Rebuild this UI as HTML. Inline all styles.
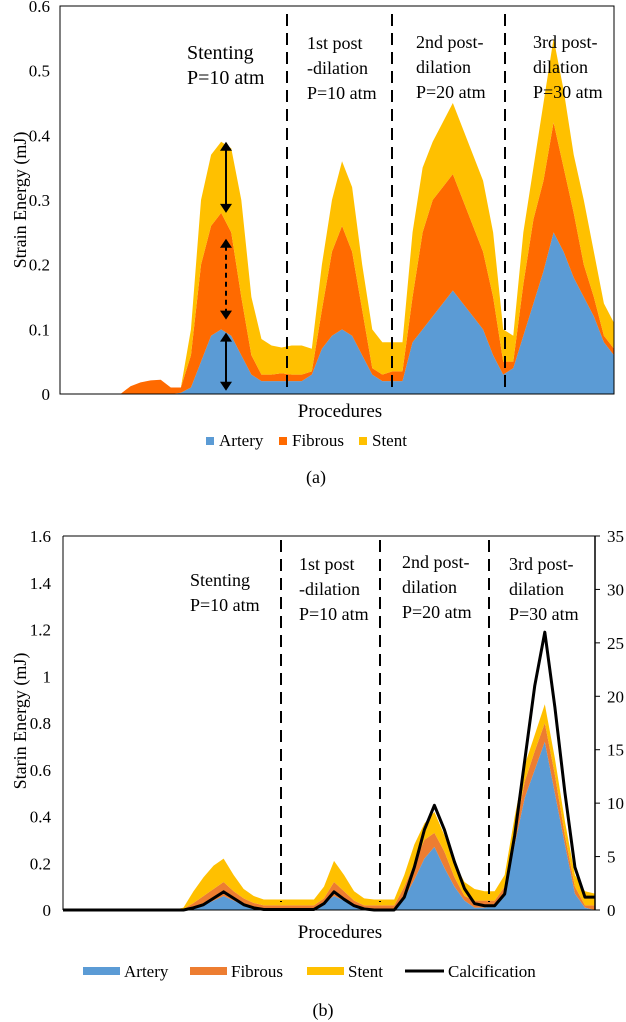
<!DOCTYPE html>
<html><head><meta charset="utf-8"><style>
body{margin:0;background:#fff;}
svg{display:block;font-family:"Liberation Serif",serif;}
</style></head><body>
<svg id="fig" width="626" height="1022"></svg>
<script>
// ---- Chart (a) data ----
const catsA = Array.from({length:56},(_,i)=>i);
const arteryA = [0,0,0,0,0,0,0,0,0,0,0,0,0.002,0.01,0.05,0.09,0.10,0.09,0.06,0.03,0.02,0.02,0.02,0.02,0.02,0.03,0.07,0.09,0.10,0.09,0.06,0.03,0.02,0.02,0.02,0.08,0.10,0.12,0.14,0.16,0.14,0.12,0.10,0.06,0.03,0.04,0.09,0.14,0.19,0.25,0.22,0.18,0.15,0.12,0.08,0.06];
const fibrousA = [0,0,0,0,0,0,0,0.012,0.018,0.021,0.022,0.01,0.008,0.05,0.15,0.17,0.18,0.16,0.09,0.03,0.01,0.01,0.012,0.01,0.01,0.005,0.06,0.13,0.16,0.13,0.07,0.01,0.01,0.015,0.015,0.07,0.15,0.18,0.18,0.18,0.16,0.14,0.12,0.09,0.02,0.01,0.08,0.13,0.14,0.17,0.13,0.10,0.05,0.03,0.01,0.01];
const stentA = [0,0,0,0,0,0,0,0,0,0,0,0,0,0.04,0.10,0.11,0.11,0.13,0.15,0.09,0.055,0.045,0.04,0.045,0.045,0.035,0.07,0.08,0.10,0.10,0.07,0.06,0.05,0.045,0.045,0.10,0.10,0.09,0.10,0.11,0.11,0.11,0.11,0.10,0.05,0.04,0.08,0.08,0.12,0.13,0.12,0.09,0.10,0.07,0.05,0.04];
const ticksA = [0,0.1,0.2,0.3,0.4,0.5,0.6];
// ---- Chart (b) data ----
const catsB = Array.from({length:54},(_,i)=>i);
const arteryB = [0,0,0,0,0,0,0,0,0,0,0,0,0,0.01,0.02,0.04,0.06,0.04,0.02,0.01,0.005,0.005,0.005,0.005,0.005,0.005,0.03,0.06,0.04,0.02,0.01,0.005,0.005,0.005,0.05,0.13,0.22,0.27,0.18,0.10,0.04,0.01,0.01,0.02,0.07,0.28,0.48,0.60,0.72,0.50,0.28,0.07,0.01,0];
const fibrousB = [0,0,0,0,0,0,0,0,0,0,0,0,0.005,0.02,0.04,0.05,0.06,0.04,0.03,0.02,0.015,0.015,0.015,0.015,0.015,0.015,0.02,0.06,0.04,0.02,0.01,0.015,0.015,0.015,0.05,0.07,0.08,0.06,0.07,0.04,0.02,0.03,0.03,0.02,0.03,0.05,0.07,0.08,0.08,0.08,0.04,0.03,0.01,0.02];
const stentB = [0,0,0,0,0,0,0,0,0,0,0,0,0.005,0.05,0.08,0.10,0.10,0.07,0.04,0.03,0.025,0.025,0.025,0.025,0.025,0.025,0.05,0.09,0.07,0.04,0.03,0.025,0.025,0.025,0.05,0.08,0.07,0.09,0.07,0.06,0.06,0.05,0.04,0.04,0.05,0.07,0.07,0.07,0.08,0.07,0.06,0.05,0.06,0.05];
const calcB = [0,0,0,0,0,0,0,0,0,0,0,0,0,0.2,0.5,1.1,1.7,1.1,0.5,0.2,0.05,0.05,0.05,0.05,0.05,0.05,0.6,1.7,1.0,0.4,0.1,0,0,0,1.2,4,7.5,9.8,7.5,4.5,2,0.6,0.4,0.4,1.5,7,14,21,26,19,11,4,1.2,1.2];
const ticksBL = [0,0.2,0.4,0.6,0.8,1,1.2,1.4,1.6];
const ticksBR = [0,5,10,15,20,25,30,35];

const NS="http://www.w3.org/2000/svg";
const svg=document.getElementById('fig');
function mk(tag,attrs,parent,text){const e=document.createElementNS(NS,tag);for(const k in attrs)e.setAttribute(k,attrs[k]);if(text!==undefined)e.textContent=text;(parent||svg).appendChild(e);return e;}
const COL={a:'#5b9bd5',f:'#ff6a00',s:'#ffc000'};
const COLB={a:'#5b9bd5',f:'#ed7d31',s:'#ffc000'};

function stackPaths(g,cats,layers,cols,xf,yf,names){
  let base=cats.map(()=>0);
  layers.forEach((L,li)=>{
    const top=base.map((b,i)=>b+L[i]);
    let d='M'+xf(0)+','+yf(base[0]);
    cats.forEach((c,i)=>{d+=' L'+xf(i)+','+yf(top[i]);});
    for(let i=cats.length-1;i>=0;i--)d+=' L'+xf(i)+','+yf(base[i]);
    const p=mk('path',{d:d+'Z',fill:cols[li]},g);
    
    
    base=top;
  });
}
function label(lines,x,y,g,size){lines.forEach((t,i)=>{const e=mk('text',{x:x,y:y+i*25,'font-size':size||20},g,t);});}

// ===== Chart A =====
(function(){
  const L=60,R=614,T=6,B=394;
  const xf=i=>L+(R-L)*i/(catsA.length-1);
  const yf=v=>B-(B-T)*v/0.6;
  const g=mk('g',{});
  stackPaths(g,catsA,[arteryA,fibrousA,stentA],[COL.a,COL.f,COL.s],xf,yf,['artery-area','fibrous-area','stent-area']);
  mk('rect',{x:L,y:T,width:R-L,height:B-T,fill:'none',stroke:'#000','stroke-width':1},g);
  ticksA.forEach(t=>{const e=mk('text',{x:L-10,y:yf(t)+6,'text-anchor':'end','font-size':17},g,t===0?'0':String(t));});
  [287,392,505].forEach(x=>{const l=mk('line',{x1:x,x2:x,y1:14,y2:394,stroke:'#000','stroke-width':2,'stroke-dasharray':'12,7'},g);});
  label(['Stenting','P=10 atm'],187,59,g);
  label(['1st post','-dilation','P=10 atm'],307,49,g,18);
  label(['2nd post-','dilation','P=20 atm'],416,48,g,18);
  label(['3rd post-','dilation','P=30 atm'],533,48,g,18);
  const yt=mk('text',{transform:'translate(26,200) rotate(-90)','text-anchor':'middle','font-size':18},g,'Strain Energy (mJ)');
  const xt=mk('text',{x:340,y:417,'text-anchor':'middle','font-size':19},g,'Procedures');
  const ax=226;
  function arr(y1,y2,dash){mk('line',{x1:ax,x2:ax,y1:yf(y1)+7,y2:yf(y2)-7,stroke:'#000','stroke-width':2,'stroke-dasharray':dash?'5,4':'none'},g);
    mk('path',{d:`M${ax-6},${yf(y1)+9} L${ax+6},${yf(y1)+9} L${ax},${yf(y1)} Z`},g);
    mk('path',{d:`M${ax-6},${yf(y2)-9} L${ax+6},${yf(y2)-9} L${ax},${yf(y2)} Z`},g);}
  arr(0.39,0.28,false);arr(0.24,0.115,true);arr(0.095,0.005,false);
  const leg=[['Artery',COL.a,206],['Fibrous',COL.f,279],['Stent',COL.s,359]];
  leg.forEach(([n,c,x])=>{const r=mk('rect',{x:x,y:437,width:8,height:8,fill:c},g);const t=mk('text',{x:x+13,y:446,'font-size':17},g,n);});
  const cap=mk('text',{x:316,y:483,'text-anchor':'middle','font-size':18},g,'(a)');
})();

// ===== Chart B =====
(function(){
  const L=63,R=595,T=536,B=910;
  const xf=i=>L+(R-L)*i/(catsB.length-1);
  const yf=v=>B-(B-T)*v/1.6;
  const yr=v=>B-(B-T)*v/35;
  const g=mk('g',{});
  stackPaths(g,catsB,[arteryB,fibrousB,stentB],[COLB.a,COLB.f,COLB.s],xf,yf,['artery-area','fibrous-area','stent-area']);
  const pts=calcB.map((v,i)=>xf(i)+','+yr(v)).join(' ');
  const pl=mk('polyline',{points:pts,fill:'none',stroke:'#000','stroke-width':3,'stroke-linejoin':'round'},g);
  mk('line',{x1:L,x2:R,y1:T,y2:T,stroke:'#000'},g);
  mk('line',{x1:L,x2:R,y1:B,y2:B,stroke:'#000'},g);
  mk('line',{x1:L,x2:L,y1:T,y2:B,stroke:'#000'},g);
  mk('line',{x1:R,x2:R,y1:T,y2:B,stroke:'#000','stroke-width':1.5},g);
  ticksBL.forEach(t=>{const e=mk('text',{x:L-12,y:yf(t)+6,'text-anchor':'end','font-size':17},g,String(t));});
  ticksBR.forEach(t=>{mk('line',{x1:R,x2:R+5,y1:yr(t),y2:yr(t),stroke:'#000'},g);const e=mk('text',{x:R+12,y:yr(t)+6,'font-size':17},g,String(t));});
  [281,380,489].forEach(x=>{const l=mk('line',{x1:x,x2:x,y1:540,y2:902,stroke:'#000','stroke-width':2,'stroke-dasharray':'12,7'},g);});
  label(['Stenting','P=10 atm'],190,586,g,18);
  label(['1st post','-dilation','P=10 atm'],299,570,g,18);
  label(['2nd post-','dilation','P=20 atm'],402,568,g,18);
  label(['3rd post-','dilation','P=30 atm'],509,570,g,18);
  const yt=mk('text',{transform:'translate(26,721) rotate(-90)','text-anchor':'middle','font-size':18},g,'Starin Energy (mJ)');
  const xt=mk('text',{x:340,y:938,'text-anchor':'middle','font-size':19},g,'Procedures');
  const leg=[['Artery',COLB.a,83,'r'],['Fibrous',COLB.f,190,'r'],['Stent',COLB.s,307,'r'],['Calcification','#000',405,'l']];
  leg.forEach(([n,c,x,k])=>{const s=k==='r'?mk('rect',{x:x,y:967,width:37,height:8,fill:c},g):mk('line',{x1:x,x2:x+39,y1:971,y2:971,stroke:'#000','stroke-width':3},g);const t=mk('text',{x:x+(k==='r'?41:43),y:977,'font-size':17},g,n);});
  const cap=mk('text',{x:323,y:1016,'text-anchor':'middle','font-size':18},g,'(b)');
})();
</script>
</body></html>
